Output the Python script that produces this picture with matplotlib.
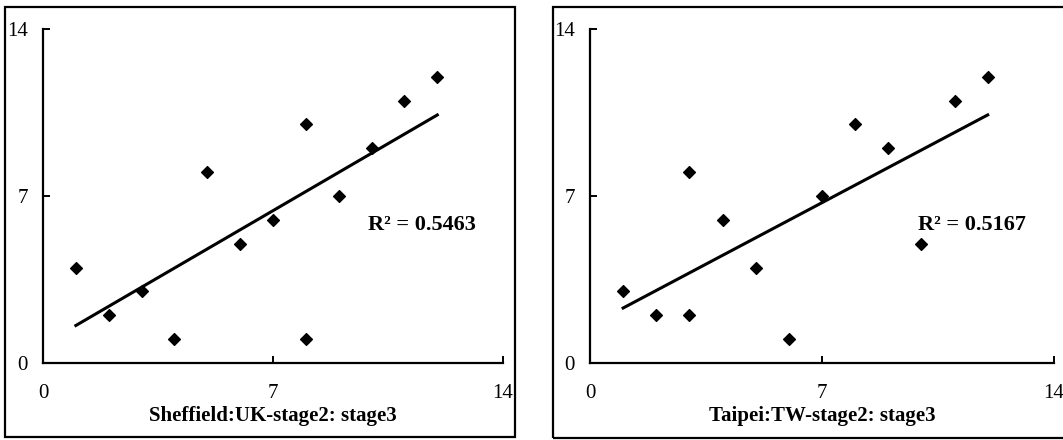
import numpy as np
import matplotlib
matplotlib.use("Agg")
import matplotlib.pyplot as plt
from matplotlib.patches import Rectangle

# panel 1: Sheffield
uk_x = [1, 2, 3, 4, 5, 6, 7, 8, 8, 9, 10, 11, 12]
uk_y = [4, 2, 3, 1, 8, 5, 6, 10, 1, 7, 9, 11, 12]
uk_r2 = "0.5463"
uk_title = "Sheffield:UK-stage2: stage3"

# panel 2: Taipei
tw_x = [1, 2, 3, 3, 4, 5, 6, 7, 8, 9, 10, 11, 12]
tw_y = [3, 2, 2, 8, 6, 4, 1, 7, 10, 9, 5, 11, 12]
tw_r2 = "0.5167"
tw_title = "Taipei:TW-stage2: stage3"

ticks = [0, 7, 14]

plt.rcParams['font.family'] = ['Liberation Serif', 'DejaVu Serif']

W, H = 1063, 440
fig = plt.figure(figsize=(W / 100, H / 100), dpi=100)


def px_box(x0, x1, y0, y1):
    # pixel coords (top-left origin) -> figure fraction rect
    return [x0 / W, 1 - y1 / H, (x1 - x0) / W, (y1 - y0) / H]


def panel(rect, frame, xs, ys, r2, title):
    fx0, fx1, fy0, fy1 = frame
    fig.patches.append(Rectangle((fx0 / W, 1 - fy1 / H), (fx1 - fx0) / W, (fy1 - fy0) / H,
                                 transform=fig.transFigure, fill=False,
                                 edgecolor='black', linewidth=1.6))
    ax = fig.add_axes(px_box(*rect))
    ax.scatter(xs, ys, marker='D', s=36, color='black', zorder=3)
    m, b = np.polyfit(xs, ys, 1)
    lx = np.array([min(xs), max(xs)])
    ax.plot(lx, m * lx + b, color='black', linewidth=2.2)
    ax.set_xlim(0, 14)
    ax.set_ylim(0, 14)
    ax.set_xticks(ticks)
    ax.set_yticks(ticks)
    ax.set_xticklabels([str(t) for t in ticks])
    ax.set_yticklabels([str(t) for t in ticks])
    ax.spines['top'].set_visible(False)
    ax.spines['right'].set_visible(False)
    for s in ('left', 'bottom'):
        ax.spines[s].set_linewidth(1.6)
    ax.tick_params(direction='in', length=5, width=1.4, labelsize=15)
    ax.tick_params(axis='x', pad=15)
    ax.tick_params(axis='y', pad=11)
    ax.text(9.9, 5.78, "R² = " + r2, fontsize=16, fontweight='bold',
            ha='left', va='center')
    ax.text(0.5, -0.16, title, transform=ax.transAxes, fontsize=15,
            fontweight='bold', ha='center', va='center')
    return ax


panel((43, 503, 29, 363), (5, 515, 7, 437), uk_x, uk_y, uk_r2, uk_title)
panel((590, 1054, 29, 363), (553, 1066, 7, 438), tw_x, tw_y, tw_r2, tw_title)

fig.savefig("out.png", dpi=100)
